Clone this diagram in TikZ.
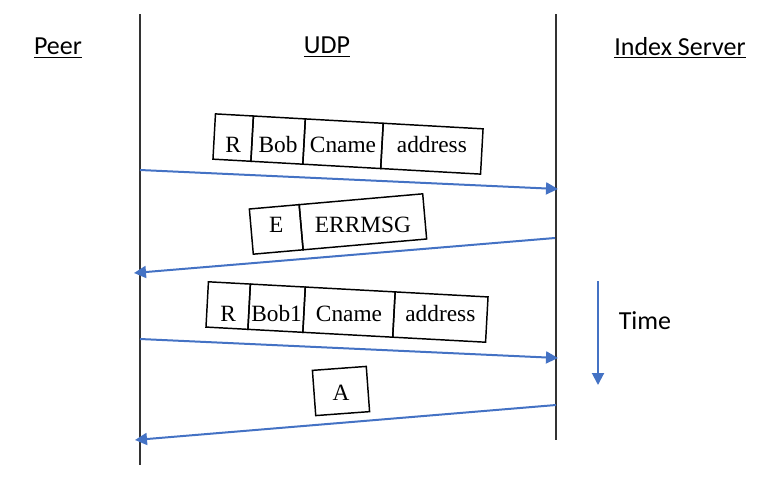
\documentclass[tikz,border=0pt]{standalone}
\usepackage{fontspec}
\setmainfont{Liberation Serif}
\newfontfamily\labelfont{Carlito}
\usetikzlibrary{arrows.meta}
\definecolor{arrowblue}{HTML}{4472C4}
\begin{document}
\begin{tikzpicture}[x=0.75pt,y=-0.75pt,
  lifeline/.style={draw=black!80, line width=0.8pt},
  msg/.style={draw=arrowblue, line width=1.5pt, -{Triangle[length=9pt,width=9pt]}},
  cell/.style={draw=black, line width=1.1pt, inner sep=0pt, outer sep=0pt, minimum height=34pt, anchor=west},
  celltext/.style={inner sep=0pt, text height=12pt, text depth=0pt, font=\fontsize{17.5pt}{20pt}\selectfont},
  lbl/.style={font=\labelfont\fontsize{19.5pt}{23pt}\selectfont, inner sep=0pt}]
\useasboundingbox (0,0) rectangle (771,489);

% lifelines
\coordinate (pTop) at (140,14);
\coordinate (pBot) at (140,465);
\coordinate (sTop) at (556,14);
\coordinate (sBot) at (556,440);
\draw[lifeline] (pTop) -- (pBot);
\draw[lifeline] (sTop) -- (sBot);

% headers
\node[lbl] (peer) at (58,48) {\underline{Peer}};
\node[lbl] (udp) at (327,47) {\underline{UDP}};
\node[lbl] (server) at (680,48) {\underline{Index Server}};

% message 1
\coordinate (c1) at (348,144);
\begin{scope}[shift={(c1)}, rotate=-3.2, transform shape]
  \node[cell, minimum width=28.5pt] (m1a) at (-134,0) {};
  \node[cell, minimum width=39pt] (m1b) at (m1a.east) {};
  \node[cell, minimum width=58.5pt] (m1c) at (m1b.east) {};
  \node[cell, minimum width=75pt] (m1d) at (m1c.east) {};
\end{scope}
\node[celltext] at (m1a.center |- c1) {R};
\node[celltext] at (m1b.center |- c1) {Bob};
\node[celltext] at (m1c.center |- c1) {Cname};
\node[celltext] at (m1d.center |- c1) {address};
\coordinate (a1s) at (140,170);
\coordinate (a1e) at (558,189);
\draw[msg] (a1s) -- (a1e);

% message 2
\coordinate (c2) at (338,224);
\begin{scope}[shift={(c2)}, rotate=5, transform shape]
  \node[cell, minimum width=37.5pt] (m2a) at (-87,0) {};
  \node[cell, minimum width=93pt] (m2b) at (m2a.east) {};
\end{scope}
\node[celltext] at (m2a.center |- c2) {E};
\node[celltext] at (m2b.center |- c2) {ERRMSG};
\coordinate (a2s) at (555,238);
\coordinate (a2e) at (134,273);
\draw[msg] (a2s) -- (a2e);

% message 3
\coordinate (c3) at (347,313);
\begin{scope}[shift={(347,312)}, rotate=-3.1, transform shape]
  \node[cell, minimum width=31.5pt] (m3a) at (-140,0) {};
  \node[cell, minimum width=41.25pt] (m3b) at (m3a.east) {};
  \node[cell, minimum width=67.5pt] (m3c) at (m3b.east) {};
  \node[cell, minimum width=69.75pt] (m3d) at (m3c.east) {};
\end{scope}
\node[celltext] at (m3a.center |- c3) {R};
\node[celltext] at (m3b.center |- c3) {Bob1};
\node[celltext] at (m3c.center |- c3) {Cname};
\node[celltext] at (m3d.center |- c3) {address};
\coordinate (a3s) at (140,339);
\coordinate (a3e) at (558,358);
\draw[msg] (a3s) -- (a3e);

% message 4
\coordinate (c4) at (341,392);
\begin{scope}[shift={(341,391)}, rotate=4.2, transform shape]
  \node[cell, minimum width=40.5pt] (m4a) at (-27,0) {};
\end{scope}
\node[celltext] at (m4a.center |- c4) {A};
\coordinate (a4s) at (556,405);
\coordinate (a4e) at (135,440);
\draw[msg] (a4s) -- (a4e);

% time arrow
\coordinate (tTop) at (598,281);
\coordinate (tBot) at (598,385);
\draw[msg] (tTop) -- (tBot);
\node[lbl] (time) at (645,321) {Time};
\end{tikzpicture}
\end{document}
